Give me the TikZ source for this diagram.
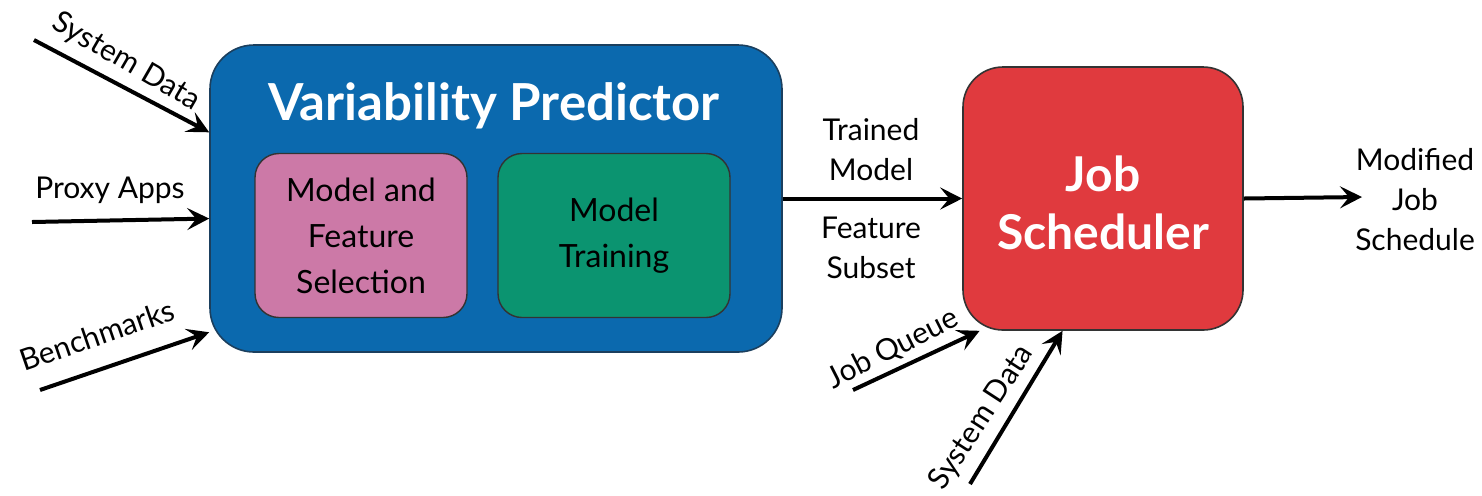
\documentclass[tikz,border=0pt]{standalone}
\usepackage{fontspec}
\setmainfont{Lato}
\usetikzlibrary{arrows.meta}
\definecolor{vpblue}{HTML}{0B69AE}
\definecolor{vpedge}{HTML}{1B3F5E}
\definecolor{mfpink}{HTML}{CC79A7}
\definecolor{mtgreen}{HTML}{0B9470}
\definecolor{jsred}{HTML}{E03A3E}
\tikzset{
  bigbox/.style={draw=vpedge, line width=0.8pt, inner sep=0pt},
  smallbox/.style={draw=black!80, line width=0.7pt, rounded corners=12pt, inner sep=0pt,
    minimum width=106pt, minimum height=82pt, align=center,
    font=\fontsize{16}{23}\selectfont},
  lbl/.style={inner sep=1pt, align=center, font=\fontsize{15}{20}\selectfont},
  flow/.style={line width=2pt, -{Stealth[length=11pt,width=11pt,inset=4.5pt]}},
  titletext/.style={text=white, align=center, font=\bfseries\fontsize{25.5}{29}\selectfont},
}
\begin{document}
\begin{tikzpicture}[x=0.5pt,y=-0.5pt]
\useasboundingbox (0,0) rectangle (1482,495);
% main boxes
\node[bigbox, fill=vpblue, rounded corners=22pt, minimum width=286pt, minimum height=153.5pt] (vp) at (496,198.5) {};
\node[titletext] (vpt) at (494,106) {Variability Predictor};
\node[smallbox, fill=mfpink] (mf) at (361,235.5) {Model and\\Feature\\Selection};
\node[smallbox, fill=mtgreen, minimum width=116pt] (mt) at (614,235.5) {Model\\Training};
\node[bigbox, draw=black!80, fill=jsred, rounded corners=20pt, minimum width=140pt, minimum height=131.5pt] (js) at (1103,198.5) {};
\node[titletext, font=\bfseries\fontsize{24}{29}\selectfont] (jst) at (1103,203) {Job\\Scheduler};
% input free ends
\coordinate (sdl) at (34,40);
\coordinate (pal) at (32,222);
\coordinate (bml) at (40,390);
\coordinate (jql) at (853,390);
\coordinate (sdb) at (970,484);
\coordinate (out) at (1362,197);
% connectors
\draw[flow] (sdl) -- (vp.167.5);
\draw[flow] (pal) -- (vp.184.7);
\draw[flow] (bml) -- (vp.205.5);
\draw[flow] (vp.east) -- (js.west);
\draw[flow] (js.east) -- (out);
\draw[flow] (jql) -- (js.227.4);
\draw[flow] (sdb) -- (js.253.5);
% labels
\node[lbl, rotate=-30] (l1) at (126,62) {System Data};
\node[lbl] (l2) at (110,190) {Proxy Apps};
\node[lbl, rotate=19] (l3) at (97,335) {Benchmarks};
\node[lbl] (l4) at (871,150) {Trained\\Model};
\node[lbl] (l5) at (871,248) {Feature\\Subset};
\node[lbl] (l6) at (1415,200) {Modified\\Job\\Schedule};
\node[lbl, rotate=27] (l7) at (893,349) {Job Queue};
\node[lbl, rotate=57] (l8) at (982,418) {System Data};
\end{tikzpicture}
\end{document}
